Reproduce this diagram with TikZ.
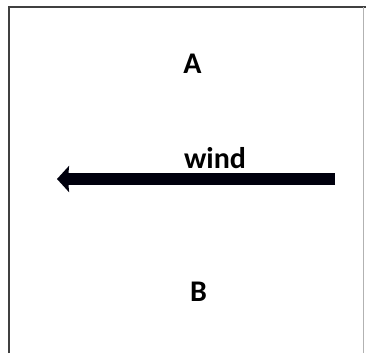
\documentclass[tikz,border=0pt]{standalone}
\usepackage{fontspec}
\setmainfont{Carlito}
\usetikzlibrary{arrows.meta}
\tikzset{
  lbl/.style={font=\bfseries\fontsize{30}{34}\selectfont, inner sep=0pt, anchor=base},
  frame/.style={line width=1.5pt, draw=black!75},
  windarrow/.style={line width=12pt, draw=black!95!blue, -{Stealth[length=12pt,width=26pt,inset=1pt]}}
}
\begin{document}
\begin{tikzpicture}[x=1pt,y=-1pt]
\useasboundingbox (0,0) rectangle (366,353);
\draw[frame] (9,353) -- (9,7) -- (366,7);
\draw[line width=0.8pt, draw=black!30] (363.5,7) -- (363.5,353);
\coordinate (start) at (335,179);
\coordinate (tip) at (57,179);
\draw[windarrow] (start) -- (tip);
\node[lbl] (A) at (192.5,73) {A};
\node[lbl] (wind) at (215,168) {wind};
\node[lbl] (B) at (198.5,301) {B};
\end{tikzpicture}
\end{document}
